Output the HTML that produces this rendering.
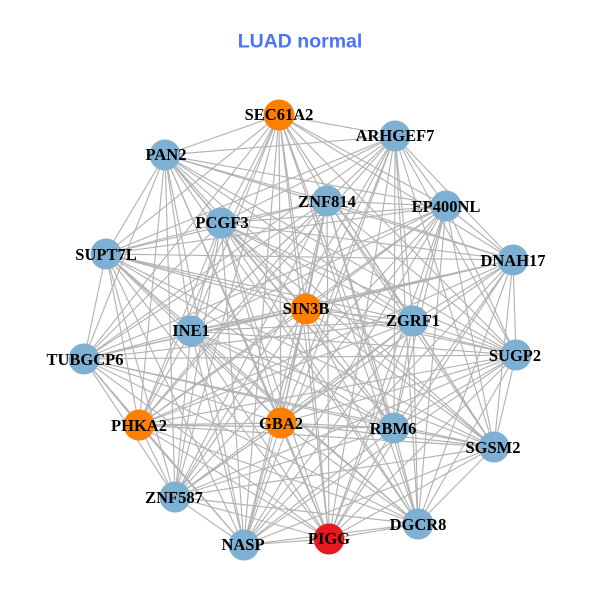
<!DOCTYPE html>
<html><head><meta charset="utf-8"><style>html,body{margin:0;padding:0;background:#fff}svg{display:block}
.l{font:bold 16.5px "Liberation Serif",serif;text-anchor:middle;fill:#000}
</style></head><body>
<svg width="600" height="600" viewBox="0 0 600 600" xmlns="http://www.w3.org/2000/svg">
<rect width="600" height="600" fill="#fff"/>
<text x="300" y="47.5" text-anchor="middle" style="font:bold 19.5px 'Liberation Sans',sans-serif" fill="#4a74f8">LUAD normal</text>
<g fill="none" stroke="#b3b3b3" stroke-width="1.15">
<path d="M279 115L395 136M279 115L165 155M279 115L327 201M279 115L446 206M279 115L221 223M279 115L106 254M279 115L513 260M279 115L306 309M279 115L413 321M279 115L191 331M279 115L516 355M279 115L84 359M279 115L139 425M279 115L281 423M279 115L394 428M279 115L494 447M279 115L175 497M279 115L418 524M279 115L244 545M279 115L329 539"/>
<path d="M395 136L165 155M395 136L327 201M395 136L446 206M395 136L221 223M395 136L106 254M395 136L513 260M395 136L306 309M395 136L413 321M395 136L191 331M395 136L516 355M395 136L84 359M395 136L139 425M395 136L281 423M395 136L394 428M395 136L494 447M395 136L175 497M395 136L418 524M395 136L244 545M395 136L329 539"/>
<path d="M165 155L327 201M165 155L446 206M165 155L221 223M165 155L106 254M165 155L513 260M165 155L306 309M165 155L413 321M165 155L191 331M165 155L516 355M165 155L84 359M165 155L139 425M165 155L281 423M165 155L394 428M165 155L494 447M165 155L175 497M165 155L418 524M165 155L244 545M165 155L329 539"/>
<path d="M327 201L446 206M327 201L221 223M327 201L106 254M327 201L513 260M327 201L306 309M327 201L413 321M327 201L191 331M327 201L516 355M327 201L84 359M327 201L139 425M327 201L281 423M327 201L394 428M327 201L494 447M327 201L175 497M327 201L418 524M327 201L244 545M327 201L329 539"/>
<path d="M446 206L221 223M446 206L106 254M446 206L513 260M446 206L306 309M446 206L413 321M446 206L191 331M446 206L516 355M446 206L84 359M446 206L139 425M446 206L281 423M446 206L394 428M446 206L494 447M446 206L175 497M446 206L418 524M446 206L244 545M446 206L329 539"/>
<path d="M221 223L106 254M221 223L513 260M221 223L306 309M221 223L413 321M221 223L191 331M221 223L516 355M221 223L84 359M221 223L139 425M221 223L281 423M221 223L394 428M221 223L494 447M221 223L175 497M221 223L418 524M221 223L244 545M221 223L329 539"/>
<path d="M106 254L513 260M106 254L306 309M106 254L413 321M106 254L191 331M106 254L516 355M106 254L84 359M106 254L139 425M106 254L281 423M106 254L394 428M106 254L494 447M106 254L175 497M106 254L418 524M106 254L244 545M106 254L329 539"/>
<path d="M513 260L306 309M513 260L413 321M513 260L191 331M513 260L516 355M513 260L84 359M513 260L139 425M513 260L281 423M513 260L394 428M513 260L494 447M513 260L175 497M513 260L418 524M513 260L244 545M513 260L329 539"/>
<path d="M306 309L413 321M306 309L191 331M306 309L516 355M306 309L84 359M306 309L139 425M306 309L281 423M306 309L394 428M306 309L494 447M306 309L175 497M306 309L418 524M306 309L244 545M306 309L329 539"/>
<path d="M413 321L191 331M413 321L516 355M413 321L84 359M413 321L139 425M413 321L281 423M413 321L394 428M413 321L494 447M413 321L175 497M413 321L418 524M413 321L244 545M413 321L329 539"/>
<path d="M191 331L516 355M191 331L84 359M191 331L139 425M191 331L281 423M191 331L394 428M191 331L494 447M191 331L175 497M191 331L418 524M191 331L244 545M191 331L329 539"/>
<path d="M516 355L84 359M516 355L139 425M516 355L281 423M516 355L394 428M516 355L494 447M516 355L175 497M516 355L418 524M516 355L244 545M516 355L329 539"/>
<path d="M84 359L139 425M84 359L281 423M84 359L394 428M84 359L494 447M84 359L175 497M84 359L418 524M84 359L244 545M84 359L329 539"/>
<path d="M139 425L281 423M139 425L394 428M139 425L494 447M139 425L175 497M139 425L418 524M139 425L244 545M139 425L329 539"/>
<path d="M281 423L394 428M281 423L494 447M281 423L175 497M281 423L418 524M281 423L244 545M281 423L329 539"/>
<path d="M394 428L494 447M394 428L175 497M394 428L418 524M394 428L244 545M394 428L329 539"/>
<path d="M494 447L175 497M494 447L418 524M494 447L244 545M494 447L329 539"/>
<path d="M175 497L418 524M175 497L244 545M175 497L329 539"/>
<path d="M418 524L244 545M418 524L329 539"/>
<path d="M244 545L329 539"/>
</g>
<g fill="#7eb0d3">
<circle cx="395" cy="136" r="15.5"/><circle cx="165" cy="155" r="15.5"/><circle cx="327" cy="201" r="15.5"/><circle cx="446" cy="206" r="15.5"/><circle cx="221" cy="223" r="15.5"/><circle cx="106" cy="254" r="15.5"/><circle cx="513" cy="260" r="15.5"/><circle cx="413" cy="321" r="15.5"/><circle cx="191" cy="331" r="15.5"/><circle cx="516" cy="355" r="15.5"/><circle cx="84" cy="359" r="15.5"/><circle cx="394" cy="428" r="15.5"/><circle cx="494" cy="447" r="15.5"/><circle cx="175" cy="497" r="15.5"/><circle cx="418" cy="524" r="15.5"/><circle cx="244" cy="545" r="15.5"/>
</g>
<g fill="#ff7f00">
<circle cx="279" cy="115" r="15.5"/><circle cx="306" cy="309" r="15.5"/><circle cx="139" cy="425" r="15.5"/><circle cx="281" cy="423" r="15.5"/>
</g>
<circle cx="329" cy="539" r="15.5" fill="#e41a1c"/>
<g>
<text class="l" x="279" y="120">SEC61A2</text>
<text class="l" x="395" y="141">ARHGEF7</text>
<text class="l" x="166" y="160">PAN2</text>
<text class="l" x="327" y="207">ZNF814</text>
<text class="l" x="446" y="212">EP400NL</text>
<text class="l" x="222" y="228">PCGF3</text>
<text class="l" x="106" y="260">SUPT7L</text>
<text class="l" x="513" y="266">DNAH17</text>
<text class="l" x="306" y="314">SIN3B</text>
<text class="l" x="413" y="326">ZGRF1</text>
<text class="l" x="191" y="336">INE1</text>
<text class="l" x="515" y="361">SUGP2</text>
<text class="l" x="85" y="365">TUBGCP6</text>
<text class="l" x="139" y="431">PHKA2</text>
<text class="l" x="281" y="429">GBA2</text>
<text class="l" x="393" y="434">RBM6</text>
<text class="l" x="493" y="453">SGSM2</text>
<text class="l" x="174" y="503">ZNF587</text>
<text class="l" x="418" y="530">DGCR8</text>
<text class="l" x="243" y="550">NASP</text>
<text class="l" x="329" y="544">PIGG</text>
</g>
</svg>
</body></html>
